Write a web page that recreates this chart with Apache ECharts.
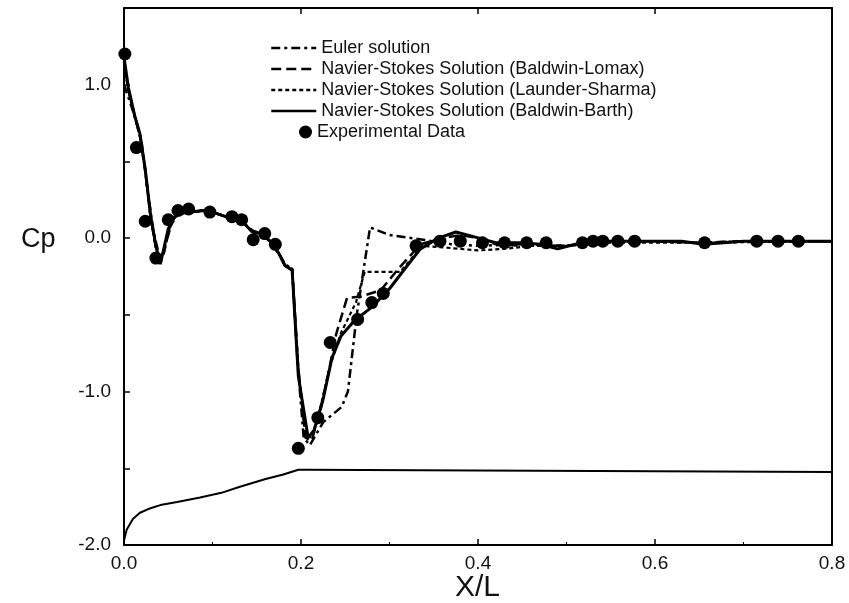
<!DOCTYPE html>
<html>
<head>
<meta charset="utf-8">
<script src="https://cdn.jsdelivr.net/npm/echarts@6/dist/echarts.min.js"></script>
<style>
  html, body { margin: 0; padding: 0; background: #fff; }
  #chart { width: 849px; height: 603px; }
</style>
</head>
<body>
<div id="chart"></div>
<script>
// Cp distribution along the surface
const eulerLine = [
  [0.0, 1.0], [0.006, 0.9], [0.014, 0.76], [0.02, 0.62], [0.026, 0.35], [0.033, 0.05],
  [0.04, -0.12], [0.045, -0.1], [0.052, 0.08], [0.06, 0.15], [0.075, 0.17], [0.09, 0.18],
  [0.105, 0.16], [0.12, 0.13], [0.135, 0.1], [0.145, 0.05], [0.155, 0.03], [0.165, -0.02],
  [0.175, -0.1], [0.182, -0.17], [0.19, -0.2], [0.196, -0.8], [0.203, -1.3], [0.21, -1.35],
  [0.225, -1.2], [0.246, -1.1], [0.253, -1.0], [0.258, -0.75], [0.263, -0.5], [0.278, 0.07],
  [0.3, 0.02], [0.338, -0.01], [0.37, -0.04], [0.4, -0.05], [0.45, -0.04], [0.5, -0.05],
  [0.55, -0.02], [0.6, -0.02], [0.65, -0.03], [0.7, -0.02], [0.8, -0.02]
];
const lomaxLine = [
  [0.0, 1.15], [0.005, 0.97], [0.012, 0.8], [0.018, 0.67], [0.024, 0.44], [0.03, 0.14],
  [0.036, -0.06], [0.042, -0.15], [0.048, -0.02], [0.055, 0.12], [0.062, 0.16], [0.075, 0.17],
  [0.09, 0.18], [0.105, 0.16], [0.12, 0.13], [0.135, 0.1], [0.145, 0.04], [0.155, 0.03],
  [0.165, -0.02], [0.175, -0.1], [0.182, -0.18], [0.19, -0.2], [0.197, -0.85], [0.205, -1.3],
  [0.212, -1.32], [0.222, -1.12], [0.232, -0.85], [0.24, -0.62], [0.252, -0.39], [0.268, -0.38],
  [0.29, -0.34], [0.31, -0.2], [0.335, -0.04], [0.36, 0.0], [0.38, 0.02], [0.4, 0.0],
  [0.42, -0.04], [0.45, -0.05], [0.5, -0.05], [0.55, -0.02], [0.6, -0.02], [0.65, -0.03],
  [0.7, -0.02], [0.8, -0.02]
];
const launderLine = [
  [0.0, 1.12], [0.005, 0.96], [0.012, 0.79], [0.018, 0.66], [0.024, 0.43], [0.03, 0.13],
  [0.036, -0.06], [0.042, -0.14], [0.048, -0.01], [0.055, 0.12], [0.062, 0.16], [0.075, 0.17],
  [0.09, 0.18], [0.105, 0.16], [0.12, 0.13], [0.135, 0.1], [0.145, 0.04], [0.155, 0.03],
  [0.165, -0.02], [0.175, -0.1], [0.182, -0.18], [0.19, -0.2], [0.197, -0.85], [0.205, -1.28],
  [0.212, -1.3], [0.222, -1.1], [0.232, -0.85], [0.245, -0.62], [0.262, -0.42], [0.272, -0.22],
  [0.312, -0.22], [0.337, -0.05], [0.36, -0.06], [0.4, -0.08], [0.43, -0.07], [0.46, -0.05],
  [0.5, -0.05], [0.55, -0.03], [0.65, -0.03], [0.8, -0.02]
];
const barthLine = [
  [0.0, 1.18], [0.005, 0.98], [0.012, 0.8], [0.018, 0.68], [0.024, 0.45], [0.03, 0.15],
  [0.036, -0.05], [0.041, -0.17], [0.05, 0.06], [0.056, 0.13], [0.062, 0.16], [0.075, 0.17],
  [0.09, 0.18], [0.105, 0.16], [0.12, 0.13], [0.135, 0.1], [0.145, 0.04], [0.155, 0.03],
  [0.165, -0.02], [0.175, -0.1], [0.182, -0.18], [0.19, -0.21], [0.197, -0.9], [0.208, -1.3],
  [0.215, -1.25], [0.225, -1.05], [0.235, -0.78], [0.245, -0.64], [0.26, -0.54], [0.28, -0.45],
  [0.3, -0.33], [0.32, -0.18], [0.335, -0.07], [0.355, 0.0], [0.375, 0.04], [0.395, 0.01],
  [0.42, -0.03], [0.45, -0.03], [0.47, -0.04], [0.49, -0.07], [0.51, -0.04], [0.55, -0.02],
  [0.6, -0.02], [0.63, -0.02], [0.655, -0.04], [0.7, -0.02], [0.75, -0.02], [0.8, -0.02]
];
const expData = [
  [0.001, 1.2], [0.014, 0.59], [0.024, 0.11], [0.036, -0.13], [0.05, 0.12], [0.061, 0.18],
  [0.073, 0.19], [0.097, 0.17], [0.122, 0.14], [0.133, 0.12], [0.146, -0.01], [0.159, 0.03],
  [0.171, -0.04], [0.197, -1.37], [0.219, -1.17], [0.233, -0.68], [0.264, -0.53], [0.28, -0.42],
  [0.293, -0.36], [0.33, -0.05], [0.357, -0.02], [0.38, -0.02], [0.405, -0.03], [0.43, -0.03],
  [0.455, -0.03], [0.477, -0.03], [0.518, -0.03], [0.53, -0.02], [0.541, -0.02], [0.558, -0.02],
  [0.577, -0.02], [0.656, -0.03], [0.715, -0.02], [0.739, -0.02], [0.762, -0.02]
];
// body contour drawn under the curves
const bodyLine = [
  [0.0, -1.97], [0.003, -1.9], [0.01, -1.83], [0.018, -1.79], [0.03, -1.76], [0.041, -1.74],
  [0.06, -1.72], [0.086, -1.69], [0.11, -1.66], [0.131, -1.62], [0.16, -1.57], [0.18, -1.54],
  [0.197, -1.51], [0.206, -1.51], [0.4, -1.515], [0.6, -1.52], [0.8, -1.525]
];

const seriesNames = [
  "Euler solution",
  "Navier-Stokes Solution (Baldwin-Lomax)",
  "Navier-Stokes Solution (Launder-Sharma)",
  "Navier-Stokes Solution (Baldwin-Barth)",
  "Experimental Data"
];

const FONT = "Liberation Sans, Arial, Helvetica, sans-serif";
const INK = "#000";

const chart = echarts.init(document.getElementById("chart"));

function lineSeries(name, data, type, width) {
  return {
    name, type: "line", data, symbol: "none", animation: false,
    lineStyle: { color: INK, width, type },
    itemStyle: { color: INK }, z: 3
  };
}

const tickStyle = { lineStyle: { color: INK, width: 1.5 } };
const frameLine = { onZero: false, lineStyle: { color: INK, width: 2 } };

chart.setOption({
  backgroundColor: "#fff",
  animation: false,
  grid: { left: 124, right: 17, top: 8, bottom: 58 },
  legend: [
    {
      data: seriesNames.slice(0, 4),
      orient: "vertical", left: 265, top: 34,
      itemWidth: 45, itemHeight: 18, itemGap: 3,
      itemStyle: { opacity: 0 },
      lineStyle: { width: 2.5 },
      textStyle: { color: "#111", fontSize: 18, fontFamily: FONT }
    },
    {
      data: [seriesNames[4]],
      orient: "vertical", left: 294, top: 118,
      itemWidth: 13, itemHeight: 13,
      textStyle: { color: "#111", fontSize: 18, fontFamily: FONT }
    }
  ],
  xAxis: [
    {
      type: "value", min: 0, max: 0.8, interval: 0.2,
      axisLine: frameLine,
      axisTick: { inside: true, length: 6, ...tickStyle },
      minorTick: { show: true, splitNumber: 2, length: 3, lineStyle: { color: INK } },
      splitLine: { show: false },
      axisLabel: { color: "#111", fontSize: 19, fontFamily: FONT, margin: 9,
        formatter: (v) => v.toFixed(1) }
    },
    {
      type: "value", position: "top", min: 0, max: 0.8, interval: 0.2,
      axisLine: frameLine,
      axisTick: { inside: true, length: 6, ...tickStyle },
      splitLine: { show: false }, axisLabel: { show: false }
    }
  ],
  yAxis: [
    {
      type: "value", min: -2, max: 1.5, interval: 0.5,
      axisLine: { show: true, ...frameLine },
      axisTick: { show: true, inside: true, length: 6, ...tickStyle },
      splitLine: { show: false },
      axisLabel: { color: "#111", fontSize: 19, fontFamily: FONT, margin: 13,
        formatter: (v) => (Number.isInteger(v) && v < 1.5 ? v.toFixed(1) : "") }
    },
    {
      type: "value", position: "right", min: -2, max: 1.5, interval: 0.5,
      axisLine: { show: true, ...frameLine },
      axisTick: { show: false },
      splitLine: { show: false }, axisLabel: { show: false }
    }
  ],
  graphic: [
    { type: "text", left: 21, top: 226,
      style: { text: "Cp", fill: "#111", fontSize: 27, fontFamily: FONT } },
    { type: "text", left: 455, top: 573,
      style: { text: "X/L", fill: "#111", fontSize: 30, fontFamily: FONT } }
  ],
  series: [
    lineSeries(seriesNames[0], eulerLine, [9, 4, 3, 4], 2.5),
    lineSeries(seriesNames[1], lomaxLine, [10, 5], 2.5),
    lineSeries(seriesNames[2], launderLine, [4, 3], 2.2),
    lineSeries(seriesNames[3], barthLine, "solid", 3),
    {
      name: seriesNames[4], type: "scatter", data: expData,
      symbol: "circle", symbolSize: 13, animation: false,
      itemStyle: { color: INK, opacity: 1 }, z: 4
    },
    {
      name: "body", type: "line", data: bodyLine, symbol: "none", animation: false,
      lineStyle: { color: INK, width: 2 }, z: 2
    }
  ]
});
</script>
</body>
</html>
